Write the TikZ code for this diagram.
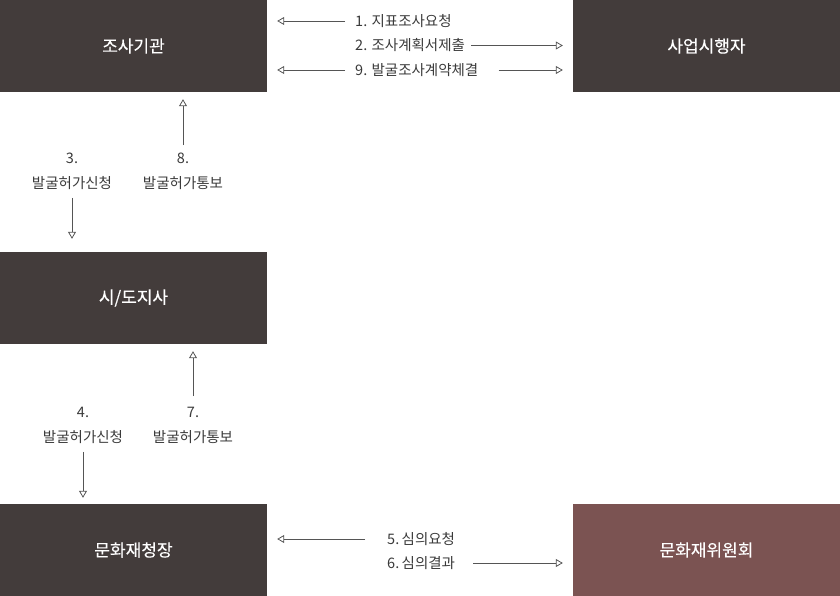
\documentclass[tikz,border=0pt]{standalone}
\usepackage{fontspec}
\setmainfont{Noto Sans CJK KR}
\newfontfamily\boxfont{Noto Sans CJK KR}[FakeBold=0.3]
\usetikzlibrary{arrows.meta}
\definecolor{boxdark}{HTML}{433C3B}
\definecolor{boxrose}{HTML}{7B5352}
\definecolor{labelgray}{HTML}{3A3A3A}
\definecolor{linegray}{HTML}{555555}
\begin{document}
\begin{tikzpicture}[x=1pt,y=-1pt,
  orgbox/.style={fill=boxdark,text=white,minimum width=267pt,minimum height=92pt,inner sep=0pt,font=\boxfont\fontsize{17}{20}\selectfont},
  rosebox/.style={orgbox,fill=boxrose},
  lbl/.style={text=labelgray,inner sep=0pt,font=\fontsize{14.5}{25}\selectfont},
  arr/.style={draw=linegray,line width=0.8pt,-{Triangle[open,length=7pt,width=8pt]}}]
\useasboundingbox (0,0) rectangle (840,596);
% boxes
\node[orgbox] (a) at (133.5,46) {조사기관};
\node[orgbox] (b) at (706.5,46) {사업시행자};
\node[orgbox] (c) at (133.5,298) {시/도지사};
\node[orgbox] (d) at (133.5,550) {문화재청장};
\node[rosebox] (e) at (706.5,550) {문화재위원회};
% top horizontal labels
\node[lbl,anchor=west] (l1) at (355,21) {1. 지표조사요청};
\node[lbl,anchor=west] (l2) at (355,45.5) {2. 조사계획서제출};
\node[lbl,anchor=west] (l9) at (355,70) {9. 발굴조사계약체결};
\draw[arr] ([xshift=-10pt]l1.west) -- ([xshift=10pt]a.east |- l1.west);
\draw[arr] ([xshift=6pt]l2.east) -- ([xshift=-10pt]b.west |- l2.east);
\draw[arr] ([xshift=-10pt]l9.west) -- ([xshift=10pt]a.east |- l9.west);
\draw[arr] ([xshift=20pt]l9.east) -- ([xshift=-10pt]b.west |- l9.east);
% upper vertical labels
\node[lbl,align=center] (l3) at (72,171.5) {3.\\발굴허가신청};
\node[lbl,align=center] (l8) at (183,171.5) {8.\\발굴허가통보};
\draw[arr] ([yshift=54pt]c.north -| l3) -- ([yshift=13pt]c.north -| l3);
\draw[arr] ([yshift=-53pt]a.south -| l8) -- ([yshift=-7pt]a.south -| l8);
% lower vertical labels
\node[lbl,align=center] (l4) at (83,425) {4.\\발굴허가신청};
\node[lbl,align=center] (l7) at (193,425) {7.\\발굴허가통보};
\draw[arr] ([yshift=52pt]d.north -| l4) -- ([yshift=6pt]d.north -| l4);
\draw[arr] ([yshift=-52pt]c.south -| l7) -- ([yshift=-7pt]c.south -| l7);
% bottom horizontal labels
\node[lbl,anchor=west] (l5) at (387,539) {5.\,심의요청};
\node[lbl,anchor=west] (l6) at (387,563) {6.\,심의결과};
\draw[arr] ([xshift=-22pt]l5.west) -- ([xshift=10pt]d.east |- l5.west);
\draw[arr] ([xshift=18pt]l6.east) -- ([xshift=-10pt]e.west |- l6.east);
\end{tikzpicture}
\end{document}
